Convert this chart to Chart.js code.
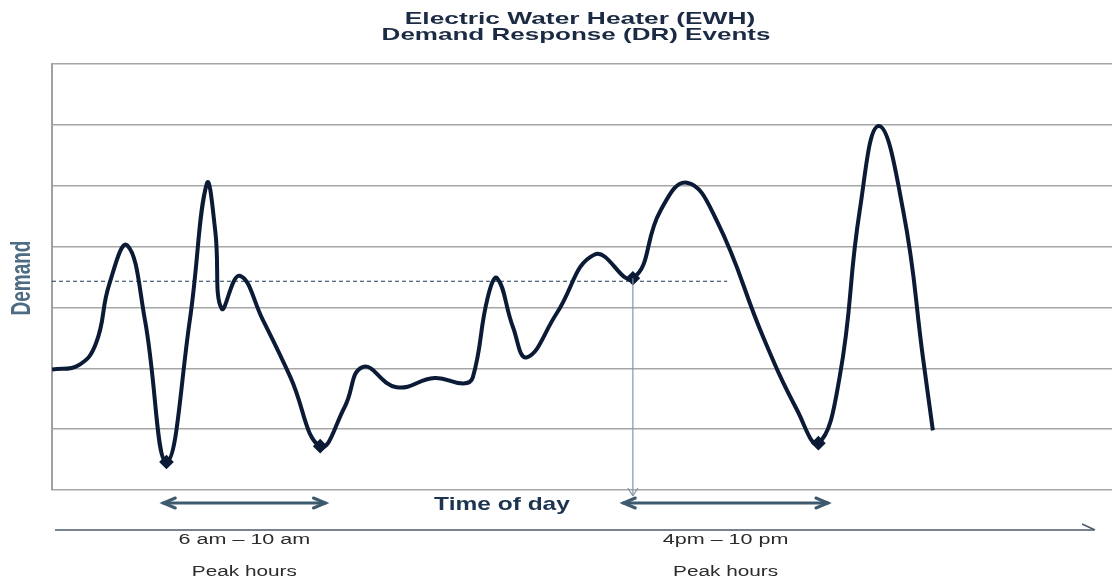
<!DOCTYPE html>
<html>
<head>
<meta charset="utf-8">
<title>EWH Demand Response Events</title>
<script src="https://cdn.jsdelivr.net/npm/chart.js@4"></script>
<style>
  body { margin: 0; background: #fff; }
  #chart { display: block; }
</style>
</head>
<body>
<canvas id="chart" width="1114" height="584"></canvas>
<script>
// time of day (arbitrary 0-100 scale across the plot) and demand level
const timeX = [0, 2.5, 4.15, 5.4, 7.1, 8.77, 10.8, 13.0, 14.6, 15.4, 16.0, 17.7,
    19.9, 22.5, 25.3, 27.6, 29.3, 32.5, 36.1, 38.8, 39.7, 41.1, 42.0, 43.5, 44.8,
    47.6, 51.2, 54.8, 57.4, 59.9, 62.7, 67.1, 70.3, 72.3, 74.3, 76.2, 78.0, 80.3, 82.2, 83.1];
const demandY = [1.98, 2.05, 2.41, 3.38, 4.02, 2.79, 0.46, 2.79, 5.03, 4.26, 2.98, 3.52,
    2.79, 1.85, 0.72, 1.36, 2.02, 1.69, 1.84, 1.75, 1.85, 3.16, 3.48, 2.67, 2.18,
    2.9, 3.87, 3.48, 4.59, 5.05, 4.43, 2.51, 1.31, 0.77, 1.85, 4.59, 5.98, 4.59, 2.13, 0.98];
const markedPoints = [6, 14, 27, 33];   // indexes of the marked minima
const eventPoint = 27;                  // DR event marked with the vertical arrow

// dashed reference level
const refLevel = 3.43;
const refEnd = 63.7;

// peak windows
const peakStart = [10.5, 53.9];
const peakEnd = [25.8, 73.2];
const peakLabels = ['6 am – 10 am', '4pm – 10 pm'];
const peakCaption = 'Peak hours';

const titleLines = ['Electric Water Heater (EWH)', 'Demand Response (DR) Events'];
const xTitle = 'Time of day';
const yTitle = 'Demand';

const yTicks = [0, 1, 2, 3, 4, 5, 6, 7];

// the reference image is stretched sideways, so text is widened to match
const drawText = (c, text, x, y, font, color, sx, rotate) => {
    c.save();
    c.translate(x, y);
    c.scale(sx, 1);
    if (rotate) c.rotate(-Math.PI / 2);
    c.font = font;
    c.fillStyle = color;
    c.textAlign = 'center';
    c.textBaseline = 'middle';
    c.fillText(text, 0, 0);
    c.restore();
};

const line = (c, x1, y1, x2, y2) => {
    c.beginPath();
    c.moveTo(x1, y1);
    c.lineTo(x2, y2);
    c.stroke();
};

const annotations = {
    id: 'annotations',
    afterDraw(chart) {
        const c = chart.ctx;
        const xs = chart.scales.x;
        const ys = chart.scales.y;
        const area = chart.chartArea;

        // titles
        drawText(c, titleLines[0], 580, 19, 'bold 17px "Liberation Sans", Arial, sans-serif', '#1c2b44', 1.55);
        drawText(c, titleLines[1], 576, 35, 'bold 17px "Liberation Sans", Arial, sans-serif', '#1c2b44', 1.53);
        drawText(c, yTitle, 22, 278, 'bold 19px "Liberation Sans Narrow", "Liberation Sans", sans-serif', '#4d6b82', 1.45, true);
        drawText(c, xTitle, 502, 505, 'bold 19px "Liberation Sans", Arial, sans-serif', '#1c3450', 1.29);

        // vertical arrow from the DR event down to the time axis
        const ex = xs.getPixelForValue(timeX[eventPoint]);
        const ey = ys.getPixelForValue(demandY[eventPoint]);
        c.save();
        c.strokeStyle = '#8397a8';
        c.lineWidth = 1.2;
        line(c, ex, ey, ex, area.bottom + 6);
        line(c, ex - 5, area.bottom - 2, ex, area.bottom + 6);
        line(c, ex + 5, area.bottom - 2, ex, area.bottom + 6);
        c.restore();

        // peak hour arrows and labels
        const ay = area.bottom + 13;
        c.save();
        c.strokeStyle = '#3d5a6e';
        c.lineWidth = 3;
        c.lineCap = 'round';
        peakStart.forEach((s, i) => {
            const x1 = xs.getPixelForValue(s);
            const x2 = xs.getPixelForValue(peakEnd[i]);
            line(c, x1, ay, x2, ay);
            c.beginPath();
            c.moveTo(x1 + 12, ay - 5);
            c.lineTo(x1, ay);
            c.lineTo(x1 + 12, ay + 5);
            c.moveTo(x2 - 12, ay - 5);
            c.lineTo(x2, ay);
            c.lineTo(x2 - 12, ay + 5);
            c.stroke();
            const mid = (x1 + x2) / 2;
            drawText(c, peakLabels[i], mid, 540, '15.5px "Liberation Sans", Arial, sans-serif', '#2b2b2b', 1.39);
            drawText(c, peakCaption, mid, 572, '15.5px "Liberation Sans", Arial, sans-serif', '#2b2b2b', 1.34);
        });
        c.restore();

        // time axis arrow
        c.save();
        c.strokeStyle = '#4a5a6a';
        c.lineWidth = 1.5;
        line(c, area.left + 3, 530, 1094, 530);
        line(c, 1082, 524, 1095, 530);
        c.restore();
    }
};

document.addEventListener('DOMContentLoaded', () => {
    const ctx = document.getElementById('chart').getContext('2d');
    new Chart(ctx, {
        type: 'line',
        data: {
            datasets: [{
                label: 'Demand',
                data: timeX.map((x, i) => ({ x: x, y: demandY[i] })),
                borderColor: '#0b1b36',
                backgroundColor: '#0b1b36',
                borderWidth: 4,
                tension: 0.45,
                pointStyle: 'rectRot',
                pointRadius: c => markedPoints.includes(c.dataIndex) ? 4.5 : 0,
                fill: false
            }, {
                label: 'Reference',
                data: [{ x: timeX[0], y: refLevel }, { x: refEnd, y: refLevel }],
                borderColor: '#1c3a5a',
                borderWidth: 1,
                borderDash: [4, 3],
                pointRadius: 0,
                fill: false
            }]
        },
        options: {
            responsive: false,
            animation: false,
            layout: { padding: { left: 52, top: 64, right: 2, bottom: 94 } },
            plugins: {
                legend: { display: false },
                title: { display: false },
                tooltip: { enabled: false }
            },
            scales: {
                x: {
                    type: 'linear',
                    min: 0,
                    max: 100,
                    display: false
                },
                y: {
                    min: yTicks[0],
                    max: yTicks[yTicks.length - 1],
                    ticks: { display: false, stepSize: 1 },
                    grid: { color: '#a6a6a6', lineWidth: 1.5, drawTicks: false },
                    border: { color: '#a0a0a0', width: 2 }
                }
            }
        },
        plugins: [annotations]
    });
});
</script>
</body>
</html>
